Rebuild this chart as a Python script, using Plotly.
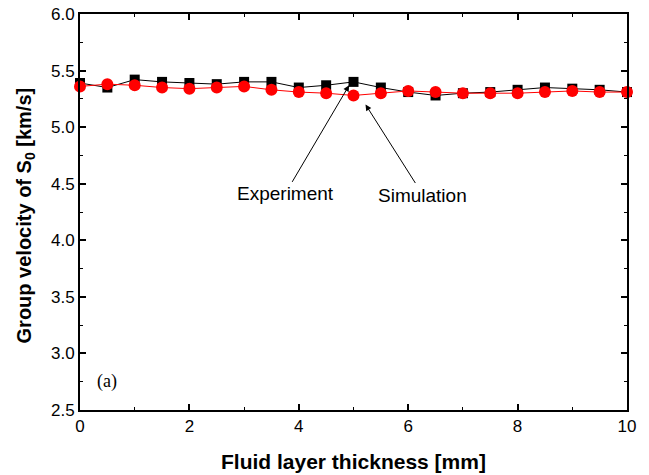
import plotly.graph_objects as go

thickness = [0, 0.5, 1, 1.5, 2, 2.5, 3, 3.5, 4, 4.5, 5, 5.5, 6, 6.5, 7, 7.5, 8, 8.5, 9, 9.5, 10]
experiment = [5.39, 5.35, 5.42, 5.40, 5.39, 5.38, 5.40, 5.40, 5.35, 5.37, 5.40, 5.35, 5.31, 5.28, 5.30, 5.31, 5.33, 5.35, 5.34, 5.33, 5.31]
simulation = [5.36, 5.38, 5.37, 5.35, 5.34, 5.35, 5.36, 5.33, 5.31, 5.30, 5.28, 5.30, 5.32, 5.31, 5.30, 5.30, 5.30, 5.31, 5.32, 5.31, 5.31]

fig = go.Figure()
fig.add_trace(go.Scatter(x=thickness, y=experiment, mode="lines+markers",
                         line=dict(color="black", width=1),
                         marker=dict(symbol="square", size=10, color="black"),
                         name="Experiment", cliponaxis=False))
fig.add_trace(go.Scatter(x=thickness, y=simulation, mode="lines+markers",
                         line=dict(color="red", width=1),
                         marker=dict(symbol="circle", size=12, color="red"),
                         name="Simulation", cliponaxis=False))

axis_common = dict(showline=True, linecolor="black", linewidth=2, mirror="allticks",
                   ticks="inside", ticklen=6, tickwidth=1.5, tickcolor="black",
                   showgrid=False, zeroline=False, automargin=False,
                   tickfont=dict(family="Liberation Sans, Arial", size=17, color="black"))

fig.update_xaxes(range=[0, 10], dtick=2, tick0=0,
                 minor=dict(dtick=1, ticks="inside", ticklen=3, tickwidth=1, tickcolor="black"),
                 **axis_common)
fig.update_yaxes(range=[2.5, 6.0], dtick=0.5, tick0=2.5, tickformat=".1f",
                 minor=dict(dtick=0.25, ticks="inside", ticklen=3, tickwidth=1, tickcolor="black"),
                 **axis_common)

# axis titles
fig.add_annotation(x=0.5, y=0, xref="paper", yref="paper", yanchor="top", yshift=-38,
                   text="<b>Fluid layer thickness [mm]</b>", showarrow=False,
                   font=dict(family="Liberation Sans, Arial", size=21, color="black"))
fig.add_annotation(x=0, y=0.49, xref="paper", yref="paper", xanchor="right", xshift=-40,
                   text="<b>Group velocity of S<sub>0</sub> [km/s]</b>", showarrow=False,
                   textangle=-90,
                   font=dict(family="Liberation Sans, Arial", size=20, color="black"))

fig.add_annotation(x=4.92, y=5.37, ax=3.75, ay=4.41, axref="x", ayref="y",
                   text="Experiment", showarrow=True, arrowhead=2, arrowsize=1.2,
                   arrowwidth=1, arrowcolor="black",
                   font=dict(family="Liberation Sans, Arial", size=19, color="black"))
fig.add_annotation(x=5.22, y=5.2, ax=6.27, ay=4.40, axref="x", ayref="y",
                   text="Simulation", showarrow=True, arrowhead=2, arrowsize=1.2,
                   arrowwidth=1, arrowcolor="black",
                   font=dict(family="Liberation Sans, Arial", size=19, color="black"))
fig.add_annotation(x=0.5, y=2.75, text="(a)", showarrow=False,
                   font=dict(family="Liberation Serif, Times New Roman", size=18, color="black"))

fig.update_layout(width=649, height=475, showlegend=False,
                  plot_bgcolor="white", paper_bgcolor="white",
                  margin=dict(l=80, r=22, t=14, b=65))

fig.write_html("out.html")
